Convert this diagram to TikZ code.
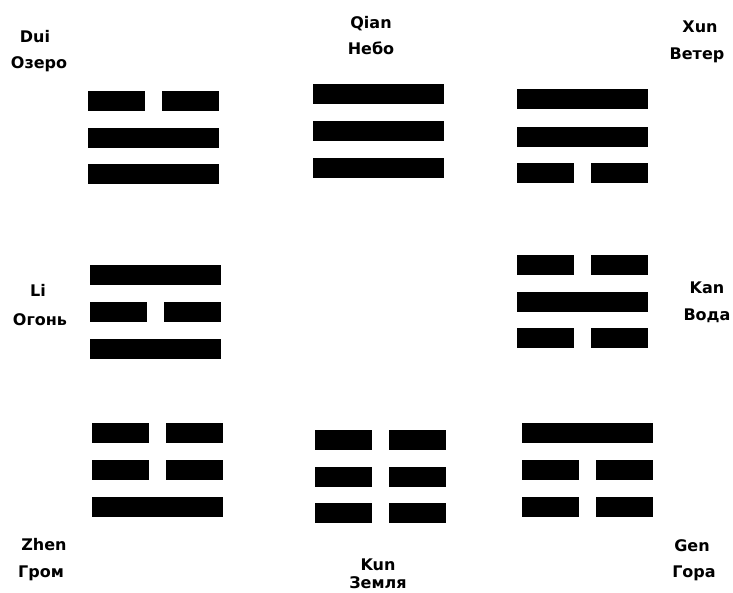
\documentclass[tikz,border=0pt]{standalone}
\usepackage{fontspec}
\setmainfont{DejaVu Sans}
\newcommand\yangbar[2]{\fill[black] (#1,#2) rectangle ++(131,20);}
\newcommand\yinbar[2]{\fill[black] (#1,#2) rectangle ++(57,20); \fill[black] (#1+74,#2) rectangle ++(57,20);}
\tikzset{lbl/.style={font=\bfseries\fontsize{16}{18}\selectfont, inner sep=0pt, text=black}}
\begin{document}
\begin{tikzpicture}[x=1pt,y=-1pt]
\fill[white] (0,0) rectangle (733,592);
\useasboundingbox (0,0) rectangle (733,592);
% Dui
\yinbar{88}{91} \yangbar{88}{128} \yangbar{88}{164}
% Qian
\yangbar{313}{84} \yangbar{313}{121} \yangbar{313}{158}
% Xun
\yangbar{517}{89} \yangbar{517}{127} \yinbar{517}{163}
% Li
\yangbar{90}{265} \yinbar{90}{302} \yangbar{90}{339}
% Kan
\yinbar{517}{255} \yangbar{517}{292} \yinbar{517}{328}
% Zhen
\yinbar{92}{423} \yinbar{92}{460} \yangbar{92}{497}
% Kun
\yinbar{315}{430} \yinbar{315}{467} \yinbar{315}{503}
% Gen
\yangbar{522}{423} \yinbar{522}{460} \yinbar{522}{497}
% labels
\node[lbl] (dui) at (35,37) {Dui};
\node[lbl] (duiru) at (39,64) {Озеро};
\node[lbl] (qian) at (371,24) {Qian};
\node[lbl] (qianru) at (371,48) {Небо};
\node[lbl] (xun) at (700,27) {Xun};
\node[lbl] (xunru) at (697,55) {Ветер};
\node[lbl] (li) at (38,290) {Li};
\node[lbl] (liru) at (40,320) {Огонь};
\node[lbl] (kan) at (707,288) {Kan};
\node[lbl] (kanru) at (707,316) {Вода};
\node[lbl] (zhen) at (44,545) {Zhen};
\node[lbl] (zhenru) at (41,573) {Гром};
\node[lbl] (kun) at (378,565) {Kun};
\node[lbl] (kunru) at (378,583) {Земля};
\node[lbl] (gen) at (692,546) {Gen};
\node[lbl] (genru) at (694,573) {Гора};
\end{tikzpicture}
\end{document}
